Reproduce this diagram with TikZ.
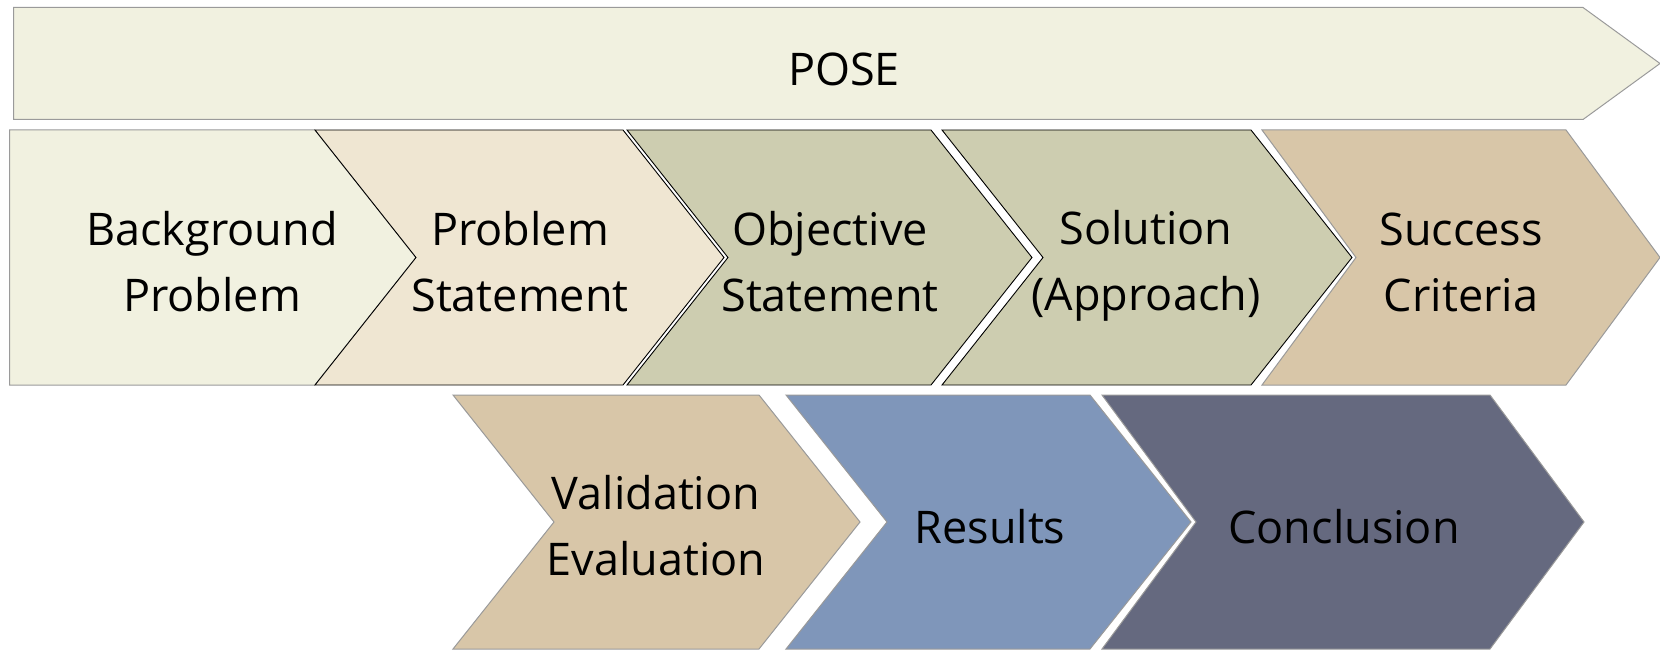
\documentclass[tikz,border=0pt]{standalone}
\usepackage{fontspec}
\setmainfont{Open Sans}
\definecolor{cPose}{HTML}{F1F1E0}
\definecolor{cBack}{HTML}{F1F1E0}
\definecolor{cProb}{HTML}{EFE6D2}
\definecolor{cObj}{HTML}{CDCDB0}
\definecolor{cSucc}{HTML}{D8C6A8}
\definecolor{cRes}{HTML}{7F96BA}
\definecolor{cConc}{HTML}{65697F}
\definecolor{cEdge}{HTML}{9A9A9A}
\newcommand{\chevshape}[6]{% style, L, T, R, B, depth
  \path[#1] (#2,#3) -- (#4,#3) -- ({#4+#6},{(#3+#5)/2}) -- (#4,#5) -- (#2,#5) -- ({#2+#6},{(#3+#5)/2}) -- cycle;}
\newcommand{\pentshape}[6]{% style, L, T, R, B, depth
  \path[#1] (#2,#3) -- (#4,#3) -- ({#4+#6},{(#3+#5)/2}) -- (#4,#5) -- (#2,#5) -- cycle;}
\begin{document}
\begin{tikzpicture}[x=1pt,y=-1pt,
  lbl/.style={font=\fontsize{45}{66}\selectfont, align=center, inner sep=0pt, text=black},
  graybox/.style={draw=cEdge, line width=1pt},
  darkbox/.style={draw=black, line width=0.9pt}]
\useasboundingbox (0,0) rectangle (1660,650);
% top banner
\pentshape{graybox, fill=cPose}{13.5}{7.5}{1583}{119.5}{77}
\node[lbl] (pose) at (844,69) {POSE};
% row 1
\pentshape{graybox, fill=cBack}{9.5}{130}{315}{385}{101}
\chevshape{darkbox, fill=cProb}{315}{130}{623}{385}{101}
\chevshape{darkbox, fill=cObj}{627}{130}{931}{385}{101}
\chevshape{darkbox, fill=cObj}{942}{130}{1251}{385}{101}
\chevshape{graybox, fill=cSucc}{1262}{130}{1566}{385}{94}
\node[lbl] (bg) at (212,262) {Background\\Problem};
\node[lbl] (ps) at (520,262) {Problem\\Statement};
\node[lbl] (os) at (830,262) {Objective\\Statement};
\node[lbl] (sa) at (1146,266) {Solution\\(Approach)};
\node[lbl] (sc) at (1461,262) {Success\\Criteria};
% row 2
\chevshape{graybox, fill=cSucc}{453}{395}{759}{649}{101}
\chevshape{graybox, fill=cRes}{786}{395}{1090}{649}{101}
\chevshape{graybox, fill=cConc}{1102}{395}{1490}{649}{94}
\node[lbl] (ve) at (656,526) {Validation\\Evaluation};
\node[lbl] (rs) at (990,527) {Results};
\node[lbl] (cc) at (1344,527) {Conclusion};
\end{tikzpicture}
\end{document}
